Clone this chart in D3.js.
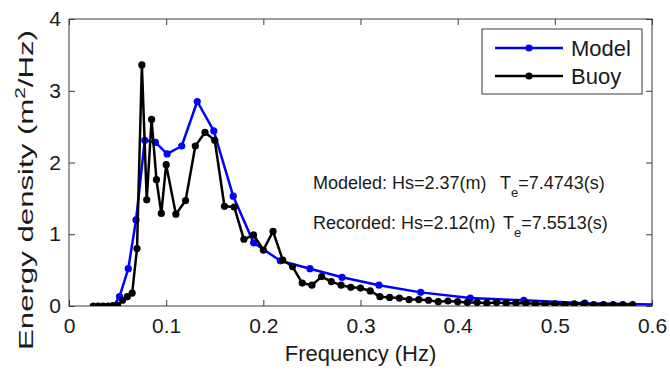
<!DOCTYPE html>
<html>
<head>
<meta charset="utf-8">
<script src="https://cdn.jsdelivr.net/npm/d3@7"></script>
<style>
  html, body { margin: 0; padding: 0; background: #fff; }
  svg { display: block; font-family: "Liberation Sans", Arial, sans-serif; }
</style>
</head>
<body>
<svg id="chart"></svg>
<script>
// model spectrum (blue)
const modelFreq = [0.046, 0.052, 0.061, 0.069, 0.078, 0.089, 0.101, 0.116, 0.132, 0.149, 0.169,
  0.190, 0.2175, 0.248, 0.281, 0.319, 0.362, 0.413, 0.468, 0.531, 0.603];
const modelEnergy = [0.0, 0.13, 0.52, 1.20, 2.31, 2.28, 2.12, 2.23, 2.85, 2.44, 1.53,
  0.88, 0.63, 0.52, 0.40, 0.29, 0.19, 0.11, 0.08, 0.04, 0.02];

// buoy spectrum (black)
const buoyFreq = [0.025, 0.03, 0.035, 0.04, 0.045, 0.05, 0.055, 0.06, 0.065, 0.07, 0.075, 0.08,
  0.085, 0.09, 0.095, 0.10, 0.11, 0.12, 0.13, 0.14, 0.15, 0.16, 0.17, 0.18, 0.19, 0.20, 0.21,
  0.22, 0.23, 0.24, 0.25, 0.26, 0.27, 0.28, 0.29, 0.30, 0.31, 0.32, 0.33, 0.34, 0.35, 0.36,
  0.37, 0.38, 0.39, 0.40, 0.41, 0.42, 0.43, 0.44, 0.45, 0.46, 0.47, 0.48, 0.49, 0.50, 0.51,
  0.52, 0.53, 0.54, 0.55, 0.56, 0.57, 0.58];
const buoyEnergy = [0, 0, 0, 0, 0.005, 0.01, 0.08, 0.13, 0.18, 0.80, 3.36, 1.48,
  2.60, 1.76, 1.29, 1.97, 1.28, 1.47, 2.23, 2.42, 2.31, 1.39, 1.38, 0.93, 0.99, 0.78, 1.04,
  0.64, 0.55, 0.32, 0.29, 0.41, 0.34, 0.29, 0.26, 0.25, 0.21, 0.13, 0.12, 0.11, 0.09, 0.09,
  0.08, 0.06, 0.07, 0.06, 0.05, 0.05, 0.04, 0.05, 0.04, 0.04, 0.04, 0.03, 0.03, 0.03, 0.02,
  0.03, 0.03, 0.02, 0.02, 0.02, 0.02, 0.02];

const xTicks = [0, 0.1, 0.2, 0.3, 0.4, 0.5, 0.6];
const yTicks = [0, 1, 2, 3, 4];
const seriesNames = ["Model", "Buoy"];
const seriesColors = ["#0000ff", "#000000"];

const width = 670, height = 370;
const plotLeft = 69, plotRight = 652, plotTop = 19, plotBottom = 306;

const svg = d3.select("#chart").attr("width", width).attr("height", height);

const x = d3.scaleLinear().domain([0, 0.6]).range([plotLeft, plotRight]);
const y = d3.scaleLinear().domain([0, 4]).range([plotBottom, plotTop]);
const fmt = d3.format("~g");

svg.append("defs").append("clipPath").attr("id", "plotClip")
  .append("rect").attr("x", plotLeft).attr("y", plotTop - 10)
  .attr("width", plotRight - plotLeft).attr("height", plotBottom - plotTop + 10);

// axes, MATLAB style: box with inward ticks on all four sides
const axisColor = "#3a3a3a";
const gx = svg.append("g").attr("transform", `translate(0,${plotBottom})`)
  .call(d3.axisBottom(x).tickValues(xTicks).tickFormat(fmt).tickSizeInner(-6).tickSizeOuter(0).tickPadding(11));
const gxTop = svg.append("g").attr("transform", `translate(0,${plotTop})`)
  .call(d3.axisTop(x).tickValues(xTicks).tickFormat("").tickSizeInner(-6).tickSizeOuter(0));
const gy = svg.append("g").attr("transform", `translate(${plotLeft},0)`)
  .call(d3.axisLeft(y).tickValues(yTicks).tickFormat(fmt).tickSizeInner(-6).tickSizeOuter(0).tickPadding(8));
const gyRight = svg.append("g").attr("transform", `translate(${plotRight},0)`)
  .call(d3.axisRight(y).tickValues(yTicks).tickFormat("").tickSizeInner(-6).tickSizeOuter(0));

[gx, gxTop, gy, gyRight].forEach(g => {
  g.select(".domain").remove();
  g.selectAll(".tick line").attr("stroke", axisColor);
  g.selectAll(".tick text").attr("fill", "#1a1a1a").style("font-size", "21px");
});
gx.selectAll(".tick text").attr("dy", "0.78em");

svg.append("rect")
  .attr("x", plotLeft).attr("y", plotTop)
  .attr("width", plotRight - plotLeft).attr("height", plotBottom - plotTop)
  .attr("fill", "none").attr("stroke", axisColor).attr("stroke-width", 1);

// axis titles
svg.append("text")
  .attr("x", (plotLeft + plotRight) / 2).attr("y", 361)
  .attr("text-anchor", "middle")
  .style("font-size", "22px").attr("fill", "#1a1a1a")
  .text("Frequency (Hz)");

const yLabel = svg.append("text")
  .attr("transform", "translate(33,190) rotate(-90)")
  .attr("text-anchor", "middle")
  .attr("textLength", 320).attr("lengthAdjust", "spacingAndGlyphs")
  .style("font-size", "21px").attr("fill", "#1a1a1a");
yLabel.append("tspan").text("Energy density (m");
yLabel.append("tspan").attr("dy", -8).style("font-size", "14px").text("2");
yLabel.append("tspan").attr("dy", 8).text("/Hz)");

// series
const plot = svg.append("g").attr("clip-path", "url(#plotClip)");
const line = d3.line().x(d => x(d[0])).y(d => y(d[1]));

const series = [
  d3.zip(modelFreq, modelEnergy),
  d3.zip(buoyFreq, buoyEnergy)
];

series.forEach((pts, i) => {
  plot.append("path")
    .datum(pts)
    .attr("d", line)
    .attr("fill", "none")
    .attr("stroke", seriesColors[i])
    .attr("stroke-width", 2.5)
    .attr("stroke-linejoin", "round");
  plot.selectAll(null)
    .data(pts)
    .enter()
    .append("circle")
    .attr("cx", d => x(d[0]))
    .attr("cy", d => y(d[1]))
    .attr("r", 3.6)
    .attr("fill", seriesColors[i]);
});

// annotations
function statLine(yPos, label, hs, te, tX) {
  const t = svg.append("text")
    .attr("x", 313).attr("y", yPos)
    .style("font-size", "18px").attr("fill", "#1a1a1a");
  t.append("tspan").text(`${label}: Hs=${hs}(m)`);
  t.append("tspan").attr("x", tX).text("T");
  t.append("tspan").attr("dy", 8).style("font-size", "13px").text("e");
  t.append("tspan").attr("dy", -8).text(`=${te}(s)`);
}
statLine(189, "Modeled", "2.37", "7.4743", 500);
statLine(229, "Recorded", "2.12", "7.5513", 503);

// legend
const legend = svg.append("g");
legend.append("rect")
  .attr("x", 482).attr("y", 29).attr("width", 160).attr("height", 65)
  .attr("fill", "#fff").attr("stroke", axisColor).attr("stroke-width", 1);

seriesNames.forEach((name, i) => {
  const ly = 48 + i * 28;
  legend.append("line")
    .attr("x1", 495).attr("x2", 563).attr("y1", ly).attr("y2", ly)
    .attr("stroke", seriesColors[i]).attr("stroke-width", 2.5);
  legend.append("circle")
    .attr("cx", 529).attr("cy", ly).attr("r", 3.6).attr("fill", seriesColors[i]);
  legend.append("text")
    .attr("x", 571).attr("y", ly + 8)
    .style("font-size", "22px").attr("fill", "#1a1a1a")
    .text(name);
});
</script>
</body>
</html>
